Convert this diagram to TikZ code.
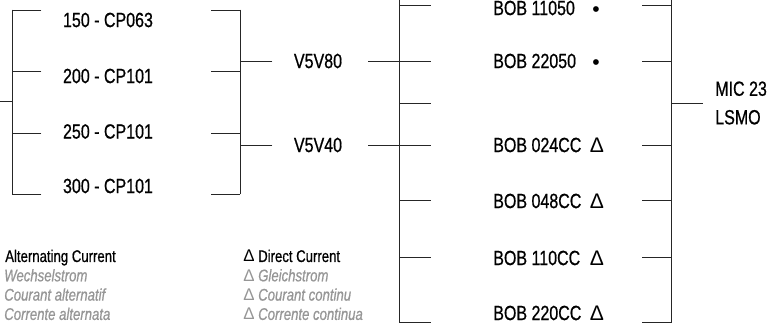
\documentclass[tikz,border=0pt]{standalone}
\usepackage{fontspec}
\setmainfont{Liberation Sans}[FakeStretch=0.78,FakeBold=0.7]
\newfontfamily\symfont{Liberation Sans}
\definecolor{transgray}{RGB}{150,150,150}

\begin{document}
\begin{tikzpicture}[
x=0.025cm, y=-0.025cm,
part/.style={
inner sep=0pt,
font=\fontsize{14.6}{17}\selectfont
},
marker/.style={
inner sep=0pt,
font=\fontsize{15}{17}\symfont
},
legend/.style={
anchor=base west,
inner sep=0pt,
font=\fontsize{12}{14}\selectfont
},
trans/.style={
legend,
text=transgray,
font=\fontsize{12}{14}\selectfont\itshape
},
wire/.style={
line width=0.7pt,
line cap=rect,
black!85
}
]

\clip (0,0) rectangle (780,326);

% lamp holders
\node[part] (p150) at (108,20) {150 - CP063};
\node[part] (p200) at (108,76) {200 - CP101};
\node[part] (p250) at (108,131.5) {250 - CP101};
\node[part] (p300) at (108,186) {300 - CP101};

% valves
\node[part] (v80) at (318,61) {V5V80};
\node[part] (v40) at (318,145) {V5V40};

% coils
\node[part, anchor=west] (b11050) at (493,8) {BOB 11050};
\node[part, anchor=west] (b22050) at (493,61) {BOB 22050};
\node[part, anchor=west] (b024) at (493,145) {BOB 024CC};
\node[part, anchor=west] (b048) at (493,201) {BOB 048CC};
\node[part, anchor=west] (b110) at (493,258) {BOB 110CC};
\node[part, anchor=west] (b220) at (493,313) {BOB 220CC};

\node[marker, anchor=base] (m11050) at (596,16.5) {•};
\node[marker, anchor=base] (m22050) at (596,69.5) {•};
\node[marker] (m024) at (597,145) {Δ};
\node[marker] (m048) at (597,201) {Δ};
\node[marker] (m110) at (597,258) {Δ};
\node[marker] (m220) at (597,313) {Δ};

% connector
\node[part, anchor=west, align=left, font=\fontsize{14.6}{20.3}\selectfont]
(mic) at (715,103) {MIC 23\\LSMO};

% legend
\node[legend] (acEn) at (5,262) {Alternating Current};
\node[trans] (acDe) at (4,281.3) {Wechselstrom};
\node[trans] (acFr) at (4,300.6) {Courant alternatif};
\node[trans] (acIt) at (4,319.9) {Corrente alternata};

\node[legend] (dcEn) at (243,262) {{\symfont Δ} Direct Current};
\node[trans] (dcDe) at (243,281.3) {{\symfont\upshape Δ} Gleichstrom};
\node[trans] (dcFr) at (243,300.6) {{\symfont\upshape Δ} Courant continu};
\node[trans] (dcIt) at (243,319.9) {{\symfont\upshape Δ} Corrente continua};

% first bracket pair
\foreach \y [count=\i] in {10,71,133,194} {
\coordinate (la\i) at (12,\y);
\coordinate (lb\i) at (41,\y);
\coordinate (ra\i) at (211,\y);
\coordinate (rb\i) at (240,\y);
\draw[wire] (la\i) -- (lb\i);
\draw[wire] (ra\i) -- (rb\i);
}
\coordinate (feed) at (0,101);
\draw[wire] (feed) -- (la1 |- feed);
\draw[wire] (la1) -- (la4);
\draw[wire] (rb1) -- (rb4);

% valve stubs
\coordinate (v80a) at (272,61);
\coordinate (v80b) at (368,61);
\coordinate (v40a) at (272,145);
\coordinate (v40b) at (368,145);
\draw[wire] (rb1 |- v80) -- (v80a);
\draw[wire] (rb1 |- v40) -- (v40a);

% coil spine
\coordinate (mtop) at (399,-5);
\foreach \y [count=\i] in {5,61,103,145,200,257,322} {
\coordinate (ma\i) at (399,\y);
\coordinate (mb\i) at (430,\y);
\draw[wire] (ma\i) -- (mb\i);
}
\draw[wire] (mtop) -- (ma7);
\draw[wire] (v80b) -- (ma2);
\draw[wire] (v40b) -- (ma4);

% connector spine
\coordinate (ntop) at (671,-5);
\foreach \y [count=\i] in {5,61,145,200,257,322} {
\coordinate (na\i) at (642,\y);
\coordinate (nb\i) at (671,\y);
\draw[wire] (na\i) -- (nb\i);
}
\draw[wire] (ntop) -- (nb6);
\coordinate (micin) at (702,103);
\draw[wire] (ntop |- micin) -- (micin);

\end{tikzpicture}
\end{document}
